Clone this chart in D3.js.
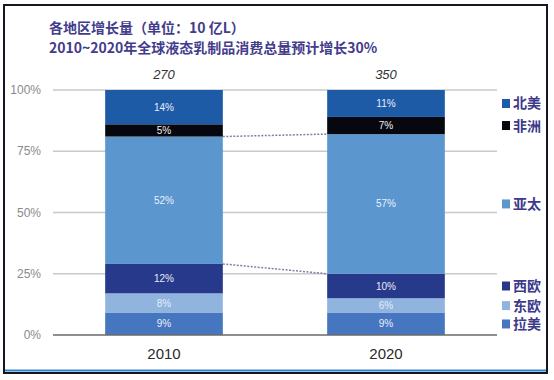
<!DOCTYPE html>
<html><head><meta charset="utf-8">
<script src="https://cdn.jsdelivr.net/npm/d3@7"></script>
<style>
html,body{margin:0;padding:0;background:#fff;}
svg{display:block;font-family:"Noto Sans CJK SC","Noto Sans",sans-serif;}
</style></head><body>
<svg id="c" width="554" height="380"></svg>
<script>
const years = ["2010", "2020"];
const totals = ["270", "350"];
const regions = ["拉美", "东欧", "西欧", "亚太", "非洲", "北美"];
const values2010 = [9, 8, 12, 52, 5, 14];
const values2020 = [9, 6, 10, 57, 7, 11];
const colors = ["#4676bf", "#90b4de", "#27398a", "#5b96cf", "#07070f", "#1e5ba7"];
const labelColors = ["#e8eef8", "#e4edf8", "#e8ecf8", "#e8f0f8", "#f0f0f0", "#e8eef8"];
const yTicks = [0, 25, 50, 75, 100];
const titleLines = ["各地区增长量（单位：10 亿L）", "2010~2020年全球液态乳制品消费总量预计增长30%"];

const svg = d3.select("#c");
const series = [values2010, values2020];
const rows = years.map((y, i) => {
  const o = {year: y};
  regions.forEach((r, j) => o[r] = series[i][j]);
  return o;
});
const stack = d3.stack().keys(regions)(rows);

const x = d3.scaleBand().domain(years).range([53, 497]).paddingInner(0.47).paddingOuter(0.235);
const y = d3.scaleLinear().domain([0, 100]).range([335, 90]);

// frame
svg.append("rect").attr("x", 4).attr("y", 5).attr("width", 543).attr("height", 368)
  .attr("fill", "#fff").attr("stroke", "#15161f").attr("stroke-width", 2);
svg.append("line").attr("x1", 5).attr("x2", 546).attr("y1", 370.5).attr("y2", 370.5)
  .attr("stroke", "#2f86d0").attr("stroke-width", 2);

// title
svg.selectAll("text.title").data(titleLines).join("text")
  .attr("x", 49).attr("y", (d, i) => 33 + i * 20)
  .attr("fill", "#433c8c").attr("font-size", 14).attr("font-weight", 700)
  .text(d => d);

// gridlines
svg.append("g").selectAll("line").data(yTicks.filter(t => t > 0)).join("line")
  .attr("x1", 53).attr("x2", 497).attr("y1", d => y(d)).attr("y2", d => y(d))
  .attr("stroke", "#c9c9c9").attr("stroke-width", 1.5);

// y axis labels
svg.append("g").selectAll("text").data(yTicks).join("text")
  .attr("x", 41).attr("y", d => y(d) + 4).attr("text-anchor", "end")
  .attr("fill", "#8a8a8a").attr("font-size", 12).attr("font-family", "Liberation Sans, sans-serif")
  .text(d => d + "%");

// dotted connectors (亚太 bottom and top)
const ap = stack[regions.indexOf("亚太")];
[0, 1].forEach(k => {
  svg.append("line")
    .attr("x1", x("2010") + x.bandwidth()).attr("y1", y(ap[0][k]))
    .attr("x2", x("2020")).attr("y2", y(ap[1][k]))
    .attr("stroke", "#7c82a2").attr("stroke-width", 1.5).attr("stroke-dasharray", "2,1.5");
});

// bars
const g = svg.append("g");
stack.forEach((s, j) => {
  g.selectAll(null).data(s).join("rect")
    .attr("x", d => x(d.data.year)).attr("width", x.bandwidth())
    .attr("y", d => y(d[1])).attr("height", d => y(d[0]) - y(d[1]))
    .attr("fill", colors[j]);
  g.selectAll(null).data(s).join("text")
    .attr("x", d => x(d.data.year) + x.bandwidth() / 2)
    .attr("y", d => (y(d[0]) + y(d[1])) / 2 + 3.5)
    .attr("text-anchor", "middle").attr("fill", labelColors[j])
    .attr("font-size", 10).attr("font-family", "Liberation Sans Narrow, Liberation Sans, sans-serif")
    .text(d => (d[1] - d[0]) + "%");
});

// baseline
svg.append("line").attr("x1", 53).attr("x2", 497).attr("y1", y(0)).attr("y2", y(0))
  .attr("stroke", "#6a6a6a").attr("stroke-width", 1.5);

// totals
svg.append("g").selectAll("text").data(years).join("text")
  .attr("x", d => x(d) + x.bandwidth() / 2).attr("y", 79).attr("text-anchor", "middle")
  .attr("font-style", "italic").attr("font-size", 13).attr("fill", "#333")
  .attr("font-family", "Liberation Sans Narrow, Liberation Sans, sans-serif")
  .text((d, i) => totals[i]);

// x labels
svg.append("g").selectAll("text").data(years).join("text")
  .attr("x", d => x(d) + x.bandwidth() / 2).attr("y", 359).attr("text-anchor", "middle")
  .attr("font-size", 15).attr("fill", "#2a2a2a")
  .attr("font-family", "Liberation Sans, sans-serif")
  .text(d => d);

// legend aligned to 2020 segments
const lg = svg.append("g");
stack.forEach((s, j) => {
  const cy = (y(s[1][0]) + y(s[1][1])) / 2;
  lg.append("rect").attr("x", 502).attr("y", cy - 4.5).attr("width", 8).attr("height", 9).attr("fill", colors[j]);
  lg.append("text").attr("x", 513).attr("y", cy + 5).attr("font-size", 14)
    .attr("fill", "#3d3a8a").attr("font-weight", 700).text(regions[j]);
});
</script>
</body></html>
